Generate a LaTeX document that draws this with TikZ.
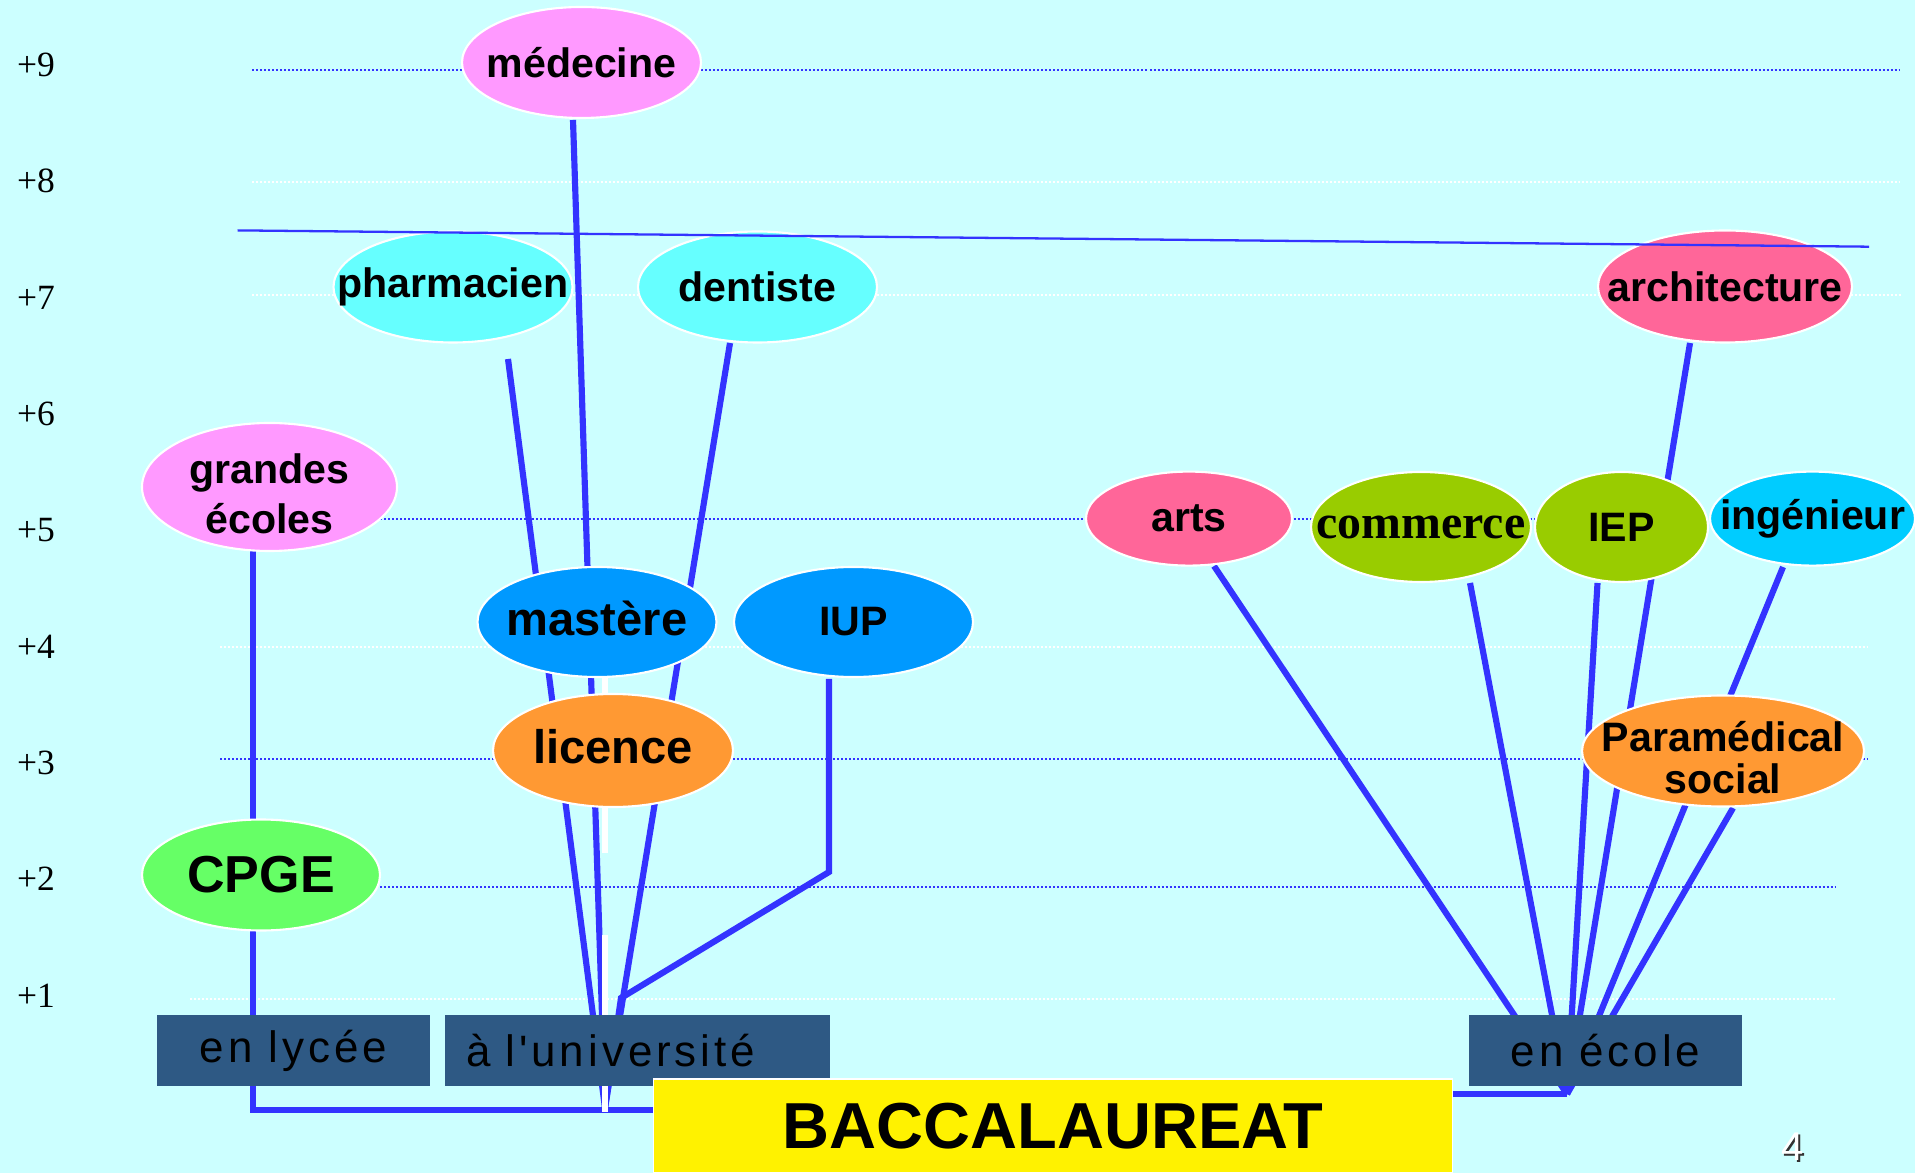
\documentclass[tikz,border=0pt]{standalone}
\usepackage{fontspec}
\setmainfont{Liberation Sans}
\newfontfamily\timesfont{Liberation Serif}
\newfontfamily\boxfont[LetterSpace=9]{Liberation Sans}
\usetikzlibrary{shapes.geometric}
\definecolor{fond}{HTML}{CCFFFF}
\definecolor{trait}{HTML}{3333FF}
\definecolor{boite}{HTML}{2E5984}
\definecolor{rose}{HTML}{FF99FF}
\definecolor{cyan1}{HTML}{66FFFF}
\definecolor{bleu1}{HTML}{0099FF}
\definecolor{orange1}{HTML}{FF9933}
\definecolor{vert1}{HTML}{66FF66}
\definecolor{framboise}{HTML}{FF6699}
\definecolor{olive1}{HTML}{99CC00}
\definecolor{ciel}{HTML}{00CCFF}
\newcommand{\etq}[1]{\makebox[0pt]{#1}}
\newcommand{\etqdeux}[3]{\makebox[0pt]{\raisebox{-0.22cm}[0pt][0pt]{\begin{tabular}{@{}c@{}}#1\\[#3]#2\end{tabular}}}}
\begin{document}
\begin{tikzpicture}[
  bulle/.style={ellipse, draw=white, line width=0.6pt, inner sep=0pt, minimum width=2.39cm, minimum height=1.11cm, font=\fontsize{11.7}{14}\selectfont\bfseries},
  grand/.style={font=\fontsize{13.4}{15}\selectfont\bfseries},
  cadre/.style={rectangle, fill=boite, inner sep=0pt, minimum width=2.73cm, minimum height=0.71cm, font=\boxfont\fontsize{12.5}{14}\selectfont},
  lien/.style={draw=trait, line width=1.75pt},
  niveau/.style={font=\timesfont\fontsize{10.1}{12}\selectfont},
  pointille/.style={line width=0.57pt, dash pattern=on 0.57pt off 0.57pt}
]
\useasboundingbox (0,0) rectangle (19.15,-11.73);
\fill[fond] (0,0) rectangle (19.15,-11.73);

\foreach \k in {1,...,9}
  \node[niveau] (n\k) at (0.36,{-0.65-(9-\k)*1.163}) {+\k};

\foreach \y/\c/\a/\b in {-0.704/trait/2.52/18.99, -1.825/white/2.52/18.99, -2.947/white/2.52/19.01,
  -5.186/trait/2.52/19.00, -6.468/white/2.20/18.67, -7.586/trait/2.20/18.67,
  -8.868/trait/2.52/18.35, -9.986/white/1.90/18.35}
  \draw[pointille, \c] (\a,\y) -- (\b,\y);

\coordinate (uni) at (6.05,-11.08);
\coordinate (ecole) at (15.67,-10.94);
\coordinate (coin) at (2.53,-11.10);
\coordinate (bacg) at (6.54,-11.10);
\coordinate (bacd) at (14.52,-10.94);
\coordinate (ge) at (2.53,-5.51);
\coordinate (cp1) at (2.53,-8.20);
\coordinate (cp2) at (2.53,-9.31);
\coordinate (ph) at (5.08,-3.59);
\coordinate (me) at (5.73,-1.20);
\coordinate (de) at (7.30,-3.43);
\coordinate (iup1) at (8.29,-6.79);
\coordinate (iup2) at (8.29,-8.72);
\coordinate (iup3) at (6.21,-9.98);
\coordinate (ar) at (12.14,-5.66);
\coordinate (co) at (14.70,-5.83);
\coordinate (ie) at (15.975,-5.83);
\coordinate (arch) at (16.90,-3.43);
\coordinate (ing) at (17.83,-5.67);
\coordinate (pa) at (17.33,-8.08);

\draw[lien] (ge) -- (cp1);
\draw[lien] (cp2) -- (coin) -- (bacg);
\draw[lien] (ph) -- (uni);
\draw[lien] (me) -- (uni);
\draw[lien] (de) -- (uni);
\draw[lien] (iup1) -- (iup2) -- (iup3) -- (uni);
\draw[lien] (ar) -- (ecole);
\draw[lien] (co) -- (ecole);
\draw[lien] (ie) -- (ecole);
\draw[lien] (arch) -- (ecole);
\draw[lien] (ing) -- (ecole);
\draw[lien] (pa) -- (ecole);
\draw[lien] (ecole) -- (bacd);
\draw[white, line width=1.9pt] (6.05,-6.77) -- (6.05,-8.53) (6.05,-9.35) -- (6.05,-11.12);

\node[bulle, fill=rose] (med) at (5.815,-0.625) {\etq{médecine}};
\node[bulle, fill=cyan1] (pharma) at (4.53,-2.87) {\etq{\raisebox{-0.04cm}{pharmacien}}};
\node[bulle, fill=cyan1] (dent) at (7.575,-2.87) {\etq{\raisebox{-0.03cm}{dentiste}}};
\node[bulle, fill=rose, minimum width=2.55cm, minimum height=1.28cm] (GE) at (2.695,-4.87) {\etqdeux{grandes}{écoles}{0.2pt}};
\node[bulle, grand, fill=bleu1, minimum height=1.10cm] (mast) at (5.97,-6.22) {\etq{\raisebox{0.08cm}{mastère}}};
\node[bulle, fill=bleu1, minimum height=1.10cm] (IUP) at (8.535,-6.22) {\etq{IUP}};
\node[bulle, grand, fill=orange1, minimum width=2.40cm, minimum height=1.13cm] (lic) at (6.13,-7.505) {\etq{\raisebox{0.08cm}{licence}}};
\node[bulle, fill=vert1, minimum width=2.38cm, font=\fontsize{14.8}{16}\selectfont\bfseries] (CPGE) at (2.61,-8.75) {\etq{CPGE}};
\node[bulle, fill=framboise, minimum width=2.06cm, minimum height=0.94cm] (arts) at (11.89,-5.186) {\etq{arts}};
\node[bulle, fill=olive1, minimum width=2.20cm, minimum height=1.10cm, font=\timesfont\fontsize{13.6}{15}\selectfont\bfseries] (comm) at (14.21,-5.27) {\etq{\raisebox{-0.04cm}{commerce}}};
\node[bulle, fill=olive1, minimum width=1.73cm, minimum height=1.10cm] (IEP) at (16.215,-5.27) {\etq{IEP}};
\node[bulle, fill=ciel, minimum width=2.05cm, minimum height=0.94cm] (ing) at (18.125,-5.186) {\etq{\raisebox{-0.04cm}{ingénieur}}};
\node[bulle, fill=framboise, minimum width=2.54cm, minimum height=1.12cm] (arch) at (17.25,-2.865) {\etq{\raisebox{-0.03cm}{architecture}}};
\node[bulle, fill=orange1, minimum width=2.82cm, minimum height=1.11cm] (para) at (17.23,-7.51) {\etqdeux{Paramédical}{social}{-2pt}};

\node[cadre] (lycee) at (2.934,-10.505) {en lycée};
\node[cadre, minimum width=3.85cm, text width=3.42cm, align=left] (univ) at (6.375,-10.505) {à l'université};
\node[cadre] (ecolebox) at (16.055,-10.505) {en école};
\node[rectangle, fill=yellow, draw=white, line width=0.5pt, inner sep=0pt, minimum width=7.99cm, minimum height=0.94cm, font=\fontsize{18.5}{20}\selectfont\bfseries] (BAC) at (10.53,-11.26) {BACCALAUREAT};

\node[font=\fontsize{11.4}{13}\selectfont] (page) at (17.93,-11.475) {\rlap{\color{black!80}\hspace{0.5pt}\raisebox{-0.5pt}{4}}\color{white}4};

\draw[trait, line width=0.65pt] (2.376,-2.304) -- (18.69,-2.467);
\end{tikzpicture}
\end{document}
